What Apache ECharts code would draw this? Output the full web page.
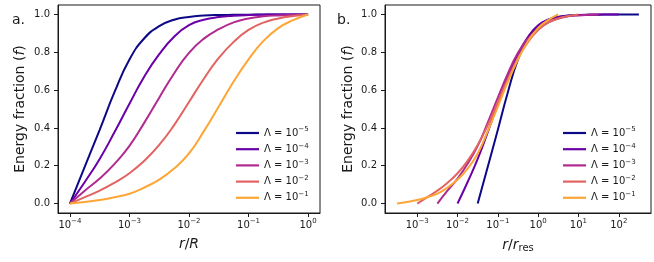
<!DOCTYPE html>
<html><head><meta charset="utf-8">
<script src="https://cdn.jsdelivr.net/npm/echarts@6/dist/echarts.min.js"></script>
<style>html,body{margin:0;padding:0;background:#fff}#c{width:654px;height:262px}</style>
</head><body><div id="c"></div>
<script>
// exponent of r/R (log10) at which curves were read
const rExp = [-4, -3.75, -3.5, -3.25, -3, -2.75, -2.5, -2.25, -2, -1.75, -1.5, -1.25, -1, -0.75, -0.5, -0.25, 0];
// Lambda exponents (Λ = 10^e)
const lambdaExp = [-5, -4, -3, -2, -1];
// energy fraction values, one array per Λ
const fL5 = [0, 0.195, 0.39, 0.59, 0.762, 0.874, 0.938, 0.972, 0.987, 0.994, 0.997, 0.998, 0.999, 0.9995, 1, 1, 1];
const fL4 = [0, 0.114, 0.236, 0.378, 0.528, 0.672, 0.79, 0.882, 0.943, 0.972, 0.986, 0.993, 0.997, 0.999, 1, 1, 1];
const fL3 = [0, 0.068, 0.132, 0.21, 0.305, 0.428, 0.56, 0.688, 0.797, 0.872, 0.922, 0.958, 0.979, 0.99, 0.995, 0.998, 1];
const fL2 = [0, 0.034, 0.068, 0.11, 0.16, 0.226, 0.31, 0.415, 0.537, 0.66, 0.77, 0.855, 0.918, 0.957, 0.979, 0.992, 1];
const fL1 = [0, 0.008, 0.019, 0.033, 0.052, 0.085, 0.127, 0.185, 0.265, 0.383, 0.513, 0.645, 0.762, 0.86, 0.928, 0.97, 1];
const fAll = [fL5, fL4, fL3, fL2, fL1];
// tick labels
const xTicksA = [-4, -3, -2, -1, 0];
const xTicksB = [-3, -2, -1, 0, 1, 2];
const yTicks = [0, 0.2, 0.4, 0.6, 0.8, 1.0];
const colors = ['#0d0887', '#6a00a8', '#b12a90', '#e16462', '#fca636'];
const names = lambdaExp.map(e => 'Λ = 10^' + (e < 0 ? '−' : '') + Math.abs(e));

const FONT = 'DejaVu Sans';
const TXT = '#1a1a1a';
const supRich = {
  b: {fontSize: 10, fontFamily: FONT, color: TXT, lineHeight: 14},
  p: {fontSize: 7, fontFamily: FONT, color: TXT, lineHeight: 14, padding: [0, 0, 7, 0]}
};
function powLabel(v) {
  return '{b|10}{p|' + (v < 0 ? '−' : '') + Math.abs(v) + '}';
}

function xAxis(gi, min, max, ticks, nameRich) {
  return {
    type: 'value', gridIndex: gi, min: min, max: max,
    name: nameRich, nameLocation: 'middle', nameGap: 15,
    nameTextStyle: {
      rich: {
        i: {fontSize: 14, fontFamily: FONT, fontStyle: 'italic', color: TXT, lineHeight: 16},
        n: {fontSize: 14, fontFamily: FONT, color: TXT, lineHeight: 16},
        s: {fontSize: 10, fontFamily: FONT, color: TXT, lineHeight: 16, padding: [7, 0, 0, 0]}
      }
    },
    axisLine: {show: true, onZero: false, lineStyle: {color: TXT, width: 1}},
    axisTick: {show: true, length: 4, customValues: ticks, lineStyle: {color: TXT, width: 1}},
    axisLabel: {show: true, margin: 5, customValues: ticks, formatter: powLabel, rich: supRich},
    splitLine: {show: false}
  };
}
function yAxis(gi, gap) {
  return {
    type: 'value', gridIndex: gi, min: -0.05, max: 1.05,
    name: '{n|Energy fraction (}{i|f}{n|)}', nameLocation: 'middle', nameGap: gap, nameRotate: 90,
    nameTextStyle: {
      rich: {
        i: {fontSize: 14, fontFamily: FONT, fontStyle: 'italic', color: TXT},
        n: {fontSize: 14, fontFamily: FONT, color: TXT}
      }
    },
    axisLine: {show: true, onZero: false, lineStyle: {color: TXT, width: 1}},
    axisTick: {show: true, length: 4, customValues: yTicks, lineStyle: {color: TXT, width: 1}},
    axisLabel: {show: true, margin: 8, customValues: yTicks, fontSize: 10, fontFamily: FONT, color: TXT,
      formatter: v => v.toFixed(1)},
    splitLine: {show: false}
  };
}

const series = [];
[0, 1].forEach(gi => {
  fAll.forEach((arr, k) => {
    const shift = gi === 0 ? 0 : -0.5 * lambdaExp[k];
    series.push({
      name: names[k], type: 'line', xAxisIndex: gi, yAxisIndex: gi,
      data: rExp.map((e, i) => [e + shift, arr[i]]),
      showSymbol: false, smooth: 0.5,
      lineStyle: {width: 2, color: colors[k]},
      itemStyle: {color: colors[k]}, silent: true, animation: false
    });
  });
});

function legend(left) {
  return {
    left: left, top: 126, orient: 'vertical', padding: 0, itemGap: 2.2,
    itemWidth: 23, itemHeight: 2.2, icon: 'rect', itemStyle: {borderWidth: 0},
    data: names,
    formatter: n => { const p = n.split('^'); return '{b|' + p[0] + '}{p|' + p[1] + '}'; },
    textStyle: {fontSize: 10, fontFamily: FONT, color: TXT, lineHeight: 14, rich: supRich},
    selectedMode: false
  };
}

const chart = echarts.init(document.getElementById('c'), null, {renderer: 'canvas'});
chart.setOption({
  animation: false,
  backgroundColor: '#fff',
  color: colors,
  title: [
    {text: 'a.', left: 12, top: 13, padding: 0, textStyle: {fontSize: 14, fontWeight: 'normal', fontFamily: FONT, color: TXT}},
    {text: 'b.', left: 337, top: 13, padding: 0, textStyle: {fontSize: 14, fontWeight: 'normal', fontFamily: FONT, color: TXT}}
  ],
  grid: [
    {left: 58, top: 5, width: 262, height: 208, show: true, borderColor: TXT, borderWidth: 1, backgroundColor: 'transparent'},
    {left: 385, top: 5, width: 266, height: 208, show: true, borderColor: TXT, borderWidth: 1, backgroundColor: 'transparent'}
  ],
  xAxis: [
    xAxis(0, -4.2, 0.2, xTicksA, '{i|r}{n|/}{i|R}'),
    xAxis(1, -3.8, 2.8, xTicksB, '{i|r}{n|/}{i|r}{s|res}')
  ],
  yAxis: [yAxis(0, 31), yAxis(1, 30)],
  legend: [legend(236), legend(563)],
  series: series
});
</script></body></html>
